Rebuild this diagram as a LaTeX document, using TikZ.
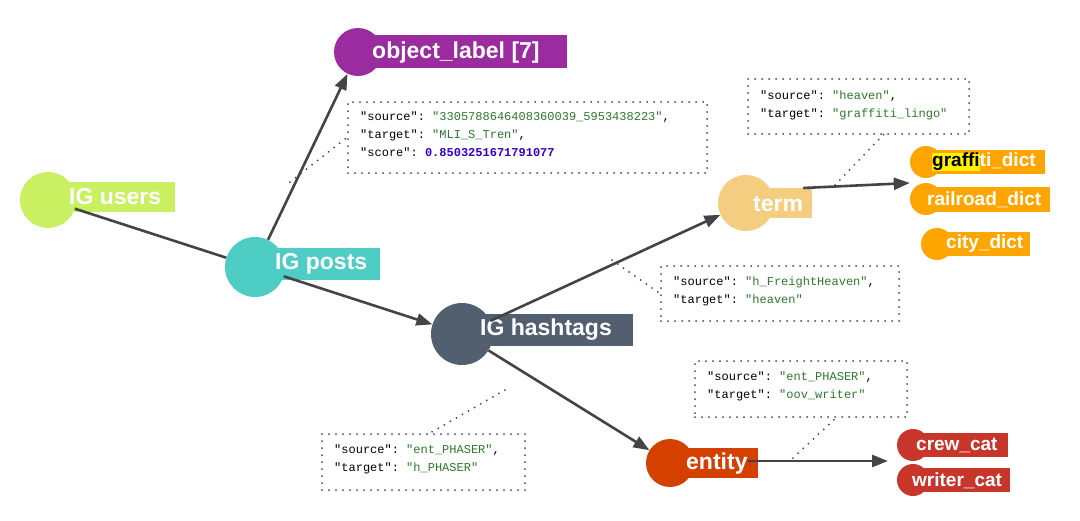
\documentclass[tikz,border=0pt]{standalone}
\usepackage{fontspec}
\setmainfont{Liberation Sans}
\setmonofont{Liberation Mono}
\usetikzlibrary{arrows.meta}
\definecolor{cusers}{HTML}{C8F060}
\definecolor{cposts}{HTML}{4ECDC4}
\definecolor{chash}{HTML}{525F6E}
\definecolor{cobj}{HTML}{9B2CA0}
\definecolor{cterm}{HTML}{F5CD80}
\definecolor{cent}{HTML}{D44000}
\definecolor{cdict}{HTML}{FFA500}
\definecolor{ccat}{HTML}{C8352A}
\definecolor{cedge}{HTML}{444444}
\definecolor{cgreen}{HTML}{2A7A2A}
\definecolor{cblue}{HTML}{3300CC}
\begin{document}
\begin{tikzpicture}[x=1pt,y=-1pt,
  circ/.style={circle,inner sep=0pt,minimum size=#1},
  lab/.style={anchor=west,inner sep=0pt,font=\bfseries\fontsize{23}{23}\selectfont,text=white},
  slab/.style={anchor=west,inner sep=0pt,font=\bfseries\fontsize{19}{19}\selectfont,text=white},
  edge/.style={draw=cedge,line width=2.6pt},
  arr/.style={edge,-{Triangle[length=16pt,width=12pt]}},
  dots/.style={draw=cedge,line width=2pt,dash pattern=on 0pt off 7pt,line cap=round},
  box/.style={dots,anchor=north west,inner sep=0pt},
  lead/.style={dots},
  json/.style={anchor=north west,align=left,inner sep=0pt,font=\ttfamily\fontsize{12}{18}\selectfont}]
\useasboundingbox (0,0) rectangle (1080,520);
% main nodes
\fill[cusers] (68,182) rectangle (175,212);
\node[circ=56pt,fill=cusers] (users) at (48,200) {};
\node[lab] (usersl) at (69,197) {IG users};
\fill[cposts] (275,248) rectangle (380,280);
\node[circ=60pt,fill=cposts] (posts) at (255,267) {};
\node[lab] (postsl) at (275,264) {IG posts};
\fill[chash] (478,314) rectangle (633,346);
\node[circ=62pt,fill=chash] (hash) at (462,334) {};
\node[lab] (hashl) at (480,330) {IG hashtags};
\fill[cobj] (372,35) rectangle (567,68);
\node[circ=48pt,fill=cobj] (obj) at (358,52) {};
\node[lab] (objl) at (372,53) {object\_label [7]};
\fill[cterm] (752,188) rectangle (812,218);
\node[circ=56pt,fill=cterm] (term) at (746,203) {};
\node[lab] (terml) at (753,204) {term};
\fill[cent] (684,448) rectangle (758,478);
\node[circ=48pt,fill=cent] (ent) at (670,463) {};
\node[lab] (entl) at (686,464) {entity};
% dicts
\fill[cdict] (930,150) rectangle (1045,174);
\node[circ=32pt,fill=cdict] (gd) at (926,162) {};
\node[slab] (gdl) at (932,162) {{\setlength{\fboxsep}{0pt}\colorbox{yellow}{\textcolor{black}{graffi}}}ti\_dict};
\fill[cdict] (927,187) rectangle (1050,212);
\node[circ=32pt,fill=cdict] (rd) at (926,199) {};
\node[slab] (rdl) at (927,200) {railroad\_dict};
\fill[cdict] (940,232) rectangle (1030,256);
\node[circ=32pt,fill=cdict] (cd) at (937,244) {};
\node[slab] (cdl) at (946,244) {city\_dict};
\fill[ccat] (915,433) rectangle (1008,457);
\node[circ=32pt,fill=ccat] (cc) at (913,445) {};
\node[slab] (ccl) at (916,445) {crew\_cat};
\fill[ccat] (912,468) rectangle (1010,492);
\node[circ=32pt,fill=ccat] (wc) at (913,480) {};
\node[slab] (wcl) at (912,481) {writer\_cat};
% edges
\draw[edge] (users) -- (posts);
\draw[arr] (posts) -- (obj);
\draw[arr] (posts) -- (hash);
\draw[arr] (hash) -- (term);
\draw[arr] (hash) -- (ent);
\draw[arr] (terml.east) ++(0,-16) coordinate (t1) -- (gd.west |- 0,183);
\draw[arr] (entl.east) ++(0,-3) -- (888,461);
% json boxes
\node[box,minimum width=359pt,minimum height=71pt] (b1) at (347,101) {};
\node[json] at (360,112) {"source": \textcolor{cgreen}{"3305788646408360039\_5953438223"},\\"target": \textcolor{cgreen}{"MLI\_S\_Tren"},\\"score": \textcolor{cblue}{\bfseries 0.8503251671791077}};
\coordinate (p1) at (290,182);
\draw[lead] (p1) -- (b1.west);
\node[box,minimum width=221pt,minimum height=55pt] (b2) at (747,78) {};
\node[json] at (760,91) {"source": \textcolor{cgreen}{"heaven"},\\"target": \textcolor{cgreen}{"graffiti\_lingo"}};
\coordinate (p2) at (835,185);
\draw[lead] (p2) -- (885,133);
\node[box,minimum width=238pt,minimum height=55pt] (b3) at (660,265) {};
\node[json] at (673,277) {"source": \textcolor{cgreen}{"h\_FreightHeaven"},\\"target": \textcolor{cgreen}{"heaven"}};
\coordinate (p3) at (612,260);
\draw[lead] (p3) -- (b3.west);
\node[box,minimum width=212pt,minimum height=56pt] (b4) at (694,360) {};
\node[json] at (707,372) {"source": \textcolor{cgreen}{"ent\_PHASER"},\\"target": \textcolor{cgreen}{"oov\_writer"}};
\coordinate (p4) at (793,458);
\draw[lead] (p4) -- (838,416);
\node[box,minimum width=203pt,minimum height=56pt] (b5) at (321,433) {};
\node[json] at (334,445) {"source": \textcolor{cgreen}{"ent\_PHASER"},\\"target": \textcolor{cgreen}{"h\_PHASER"}};
\coordinate (p5) at (505,390);
\draw[lead] (p5) -- (430,433);
\end{tikzpicture}
\end{document}
